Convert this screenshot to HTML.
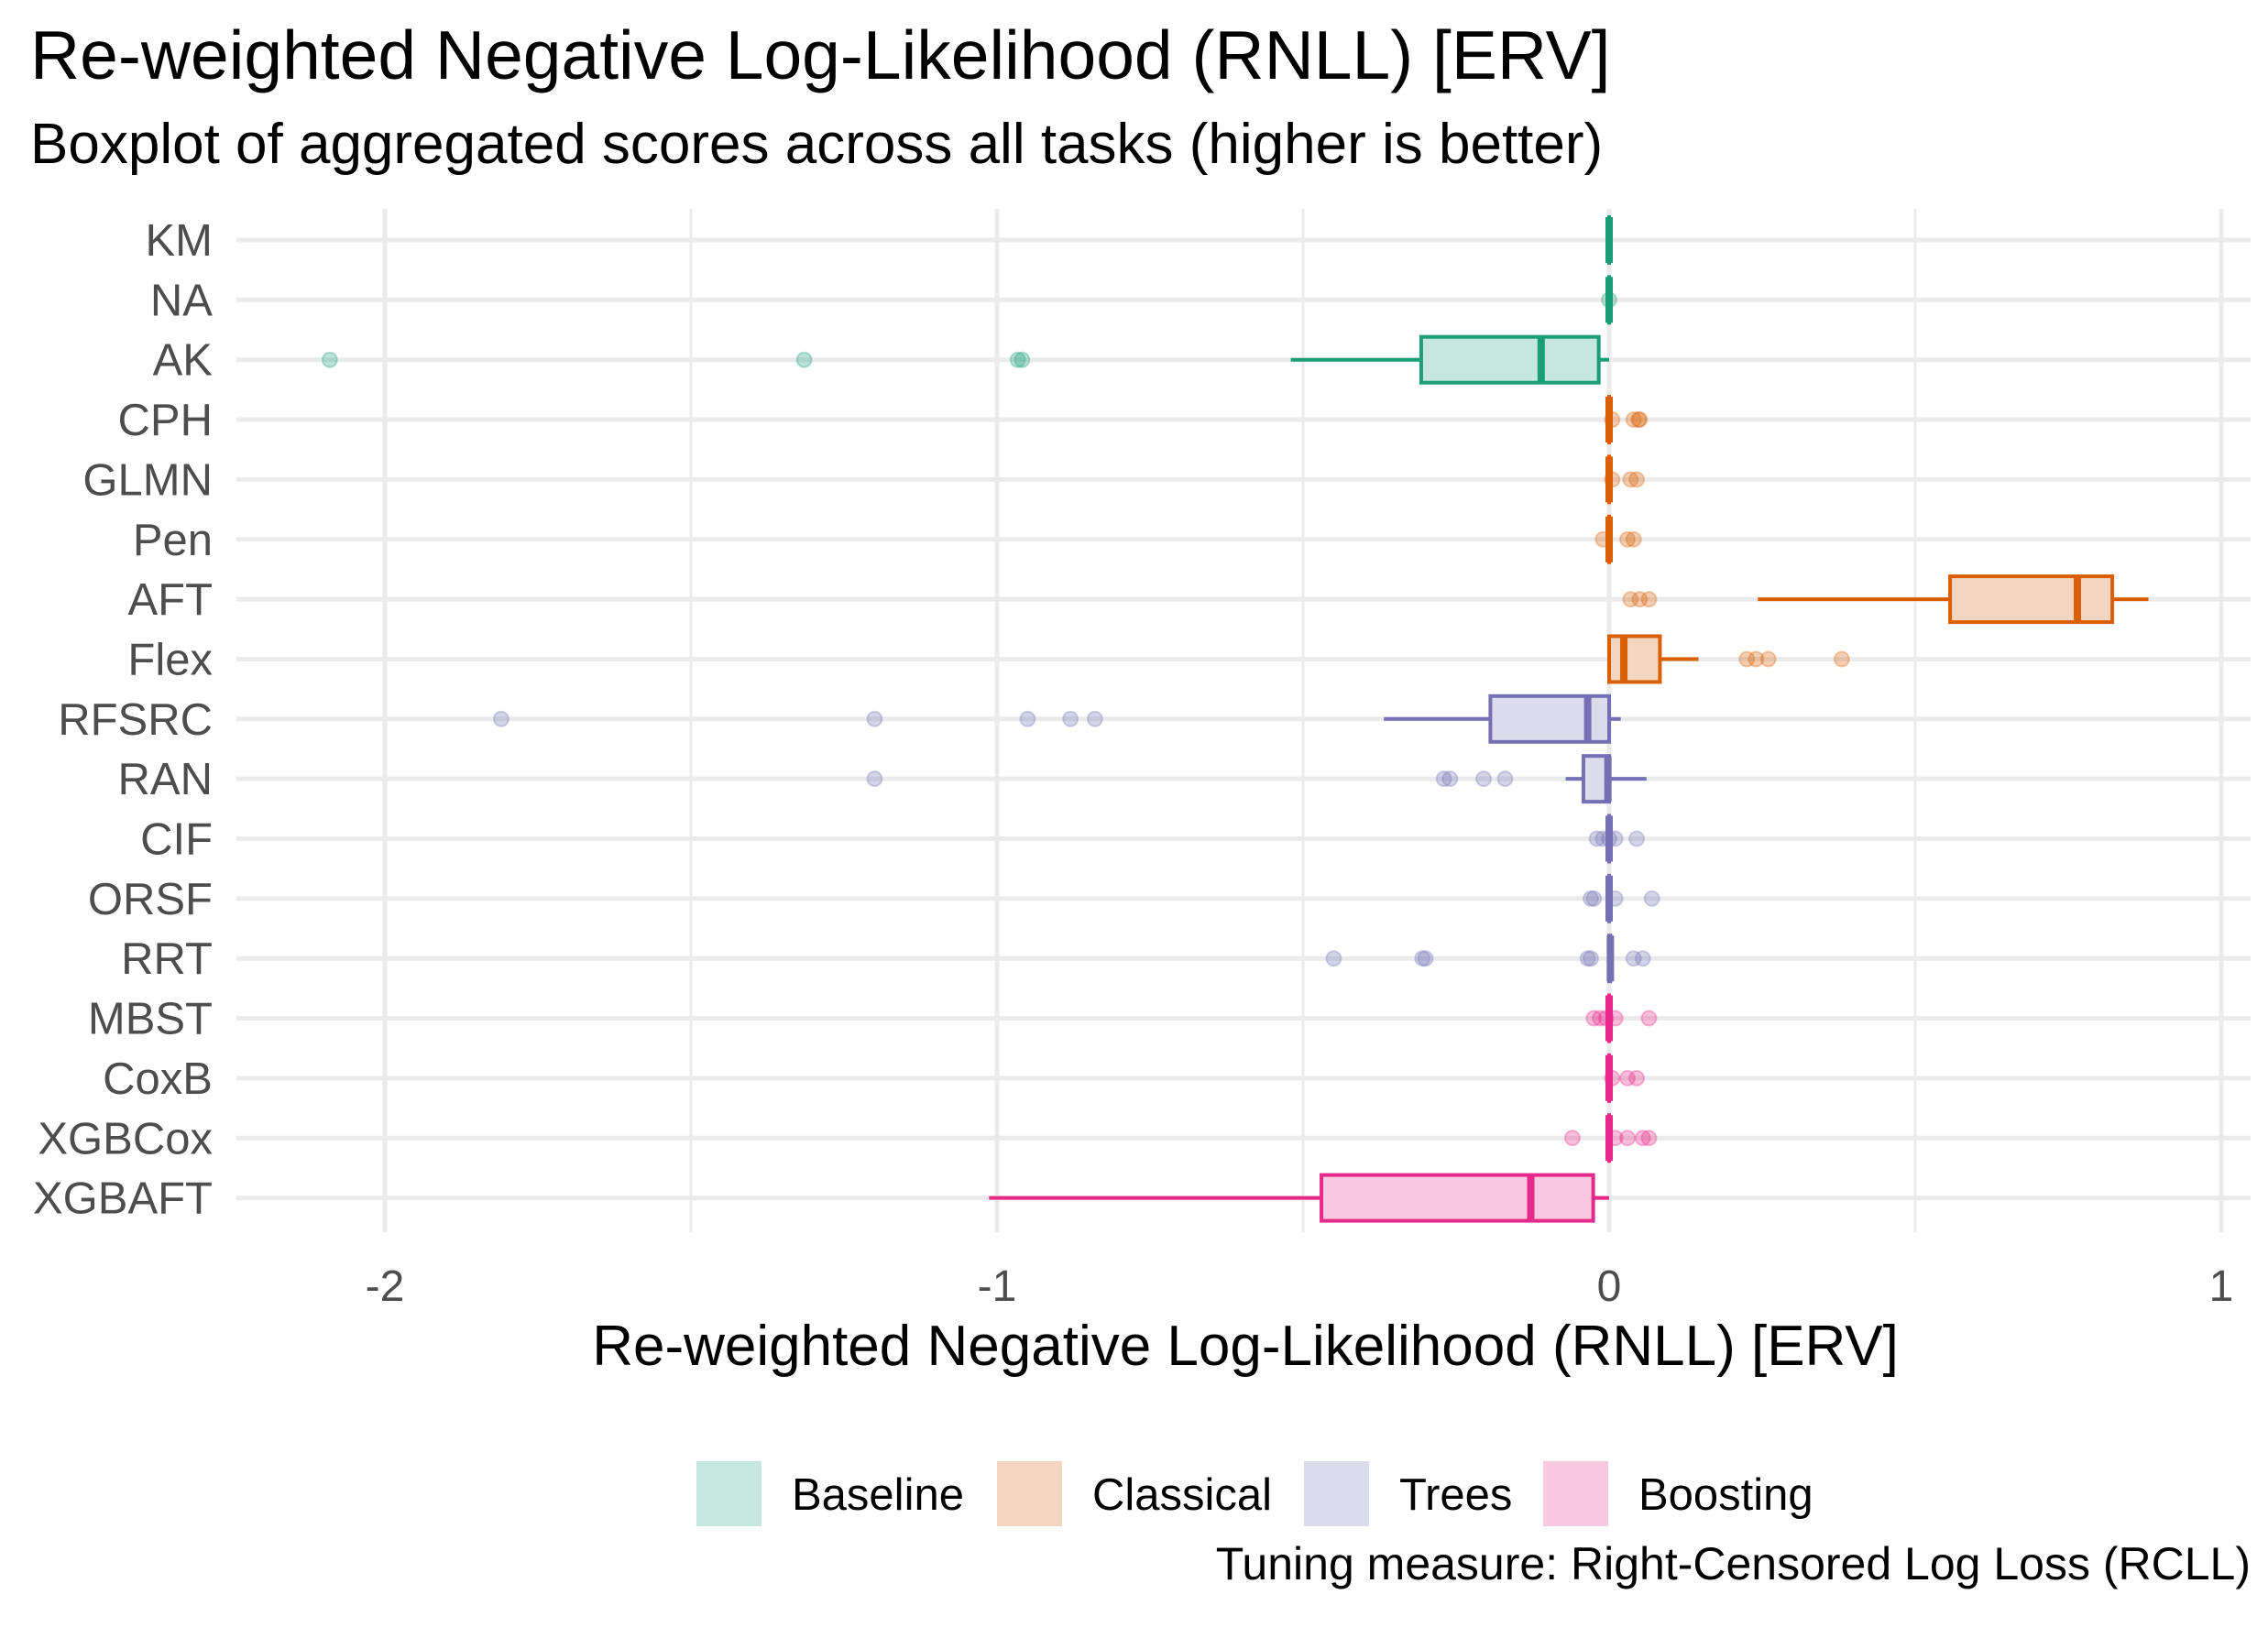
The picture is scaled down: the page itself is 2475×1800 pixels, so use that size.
<!DOCTYPE html>
<html><head><meta charset="utf-8">
<style>
html,body{margin:0;padding:0;background:#fff;}
svg{display:block;font-family:"Liberation Sans",sans-serif;}
</style></head>
<body>
<svg id="chart" width="2475" height="1800" viewBox="0 0 2475 1800" xmlns="http://www.w3.org/2000/svg">
<text x="33" y="86" font-size="75" fill="#000">Re-weighted Negative Log-Likelihood (RNLL) [ERV]</text>
<text x="33" y="178" font-size="62" fill="#000">Boxplot of aggregated scores across all tasks (higher is better)</text>
<g id="grid"></g>
<g id="marks"></g>
<g id="axes"></g>
<text x="1359" y="1490" font-size="62" text-anchor="middle" fill="#000">Re-weighted Negative Log-Likelihood (RNLL) [ERV]</text>
<g id="legend"></g>
<text x="2456" y="1724" font-size="50" text-anchor="end" fill="#000">Tuning measure: Right-Censored Log Loss (RCLL)</text>
</svg>
<script>
const categories = ["KM","NA","AK","CPH","GLMN","Pen","AFT","Flex","RFSRC","RAN","CIF","ORSF","RRT","MBST","CoxB","XGBCox","XGBAFT"];
const groups = ["Baseline","Baseline","Baseline","Classical","Classical","Classical","Classical","Classical","Trees","Trees","Trees","Trees","Trees","Boosting","Boosting","Boosting","Boosting"];
const lowerWhisker = [0,0,-0.52,0,0,0,0.243,0,-0.368,-0.071,0,0,0,0,0,0,-1.013];
const q1 = [0,0,-0.307,0,0,0,0.557,0,-0.194,-0.042,0,0,0,0,0,0,-0.47];
const medians = [0,0,-0.111,0,0,0,0.765,0.024,-0.035,-0.002,0,0,0.002,0,0,0,-0.128];
const q3 = [0,0,-0.017,0,0,0,0.822,0.083,0,0,0,0,0.002,0,0,0,-0.026];
const upperWhisker = [0,0,0,0,0,0,0.881,0.146,0.019,0.061,0,0,0.002,0,0,0,0];
const outliers = [
 [],[0],[-2.09,-1.315,-0.966,-0.959],
 [0.005,0.04,0.048,0.05],[0.005,0.035,0.045],[-0.01,0.03,0.04],
 [0.035,0.05,0.065],[0.225,0.24,0.26,0.38],
 [-1.81,-1.2,-0.95,-0.88,-0.84],[-1.2,-0.27,-0.26,-0.205,-0.17],
 [-0.02,-0.01,0,0.01,0.045],[-0.03,-0.025,0.01,0.07],
 [-0.45,-0.305,-0.3,-0.035,-0.03,0.04,0.055],
 [-0.025,-0.015,-0.005,0.01,0.065],[0.005,0.03,0.045],
 [-0.06,0.01,0.03,0.055,0.065],[]
];
const xTicks = [-2,-1,0,1];
const xTickLabels = ["-2","-1","0","1"];
const xMinor = [-1.5,-0.5,0.5];
const legendLabels = ["Baseline","Classical","Trees","Boosting"];
const colors = {Baseline:"#1b9e77",Classical:"#d95f02",Trees:"#7570b3",Boosting:"#e7298a"};
const fills = {Baseline:"#c6e7dd",Classical:"#f4d6c0",Trees:"#dcdbec",Boosting:"#f8c9e1"};

const NS="http://www.w3.org/2000/svg";
const PL=258, PR=2456, PT=228, PB=1345;
function xs(v){return 1756+v*668;}
function ys(i){return 262+i*65.35;}
function mk(tag,attrs,parent){const e=document.createElementNS(NS,tag);for(const k in attrs)e.setAttribute(k,attrs[k]);parent.appendChild(e);return e;}
const grid=document.getElementById('grid'), marks=document.getElementById('marks'), axes=document.getElementById('axes'), legend=document.getElementById('legend');

xMinor.forEach(v=>{const l=mk('line',{x1:xs(v),x2:xs(v),y1:PT,y2:PB,stroke:'#ebebeb','stroke-width':3},grid);

});
xTicks.forEach((v,i)=>{const l=mk('line',{x1:xs(v),x2:xs(v),y1:PT,y2:PB,stroke:'#ebebeb','stroke-width':5},grid);


const t=mk('text',{x:xs(v),y:1420,'font-size':48,'text-anchor':'middle',fill:'#4d4d4d'},axes);t.textContent=xTickLabels[i];

});
categories.forEach((c,i)=>{const l=mk('line',{x1:PL,x2:PR,y1:ys(i),y2:ys(i),stroke:'#ebebeb','stroke-width':5},grid);


const t=mk('text',{x:232,y:ys(i)+17,'font-size':49,'text-anchor':'end',fill:'#4d4d4d'},axes);t.textContent=c;

});

const H=50;
categories.forEach((c,i)=>{
 const g=groups[i], col=colors[g], y=ys(i);
 const grp=mk('g',{},marks);
 
 
 mk('line',{x1:xs(lowerWhisker[i]),x2:xs(q1[i]),y1:y,y2:y,stroke:col,'stroke-width':4},grp);
 mk('line',{x1:xs(q3[i]),x2:xs(upperWhisker[i]),y1:y,y2:y,stroke:col,'stroke-width':4},grp);
 const w=xs(q3[i])-xs(q1[i]);
 mk('rect',{x:xs(q1[i]),y:y-H/2,width:Math.max(w,0.01),height:H,fill:fills[g],stroke:col,'stroke-width':4},grp);
 mk('line',{x1:xs(medians[i]),x2:xs(medians[i]),y1:y-H/2,y2:y+H/2,stroke:col,'stroke-width':8},grp);
 outliers[i].forEach(v=>{const p=mk('circle',{cx:xs(v),cy:y,r:8,fill:col,'fill-opacity':0.3,stroke:col,'stroke-opacity':0.3,'stroke-width':2},grp);
  
  });
});

const keyX=[760,1088,1423,1684];
legendLabels.forEach((lab,i)=>{
 const r=mk('rect',{x:keyX[i],y:1595,width:71,height:71,fill:fills[lab]},legend);
 
 
 const t=mk('text',{x:keyX[i]+104,y:1648,'font-size':49,fill:'#000'},legend);t.textContent=lab;
 
 
});
</script>
</body></html>
